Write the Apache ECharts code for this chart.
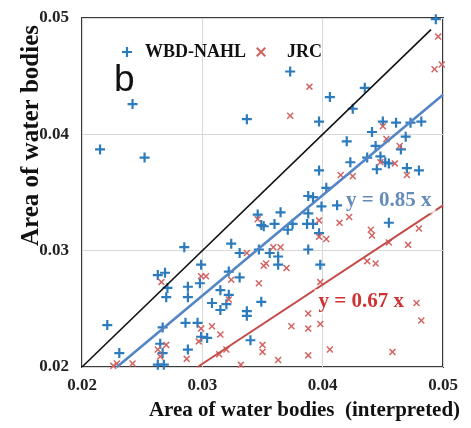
<!DOCTYPE html>
<html>
<head>
<meta charset="utf-8">
<script src="https://cdn.jsdelivr.net/npm/echarts@6/dist/echarts.min.js"></script>
<style>
html,body{margin:0;padding:0;background:#fff;}
#chart{width:471px;height:428px;}
</style>
</head>
<body>
<div id="chart"></div>
<script>
// ---------- DATA ----------
const xTicks = [0.02, 0.03, 0.04, 0.05];
const yTicks = [0.02, 0.03, 0.04, 0.05];
const seriesNames = ['WBD-NAHL', 'JRC'];

const wbdPoints = [
  [0.0242,0.0426],[0.0215,0.0387],[0.0252,0.0380],[0.0373,0.0454],[0.0337,0.0413],
  [0.0397,0.0411],[0.0397,0.0369],[0.0403,0.0354],[0.0388,0.0347],[0.0392,0.0346],
  [0.0494,0.0499],[0.0435,0.0440],[0.0406,0.0432],[0.0425,0.0422],[0.0450,0.0411],
  [0.0461,0.0410],[0.0473,0.0410],[0.0482,0.0411],[0.0441,0.0402],[0.0420,0.0394],
  [0.0469,0.0398],[0.0444,0.0390],[0.0465,0.0387],[0.0437,0.0380],[0.0423,0.0376],
  [0.0448,0.0381],[0.0452,0.0376],[0.0455,0.0375],[0.0445,0.0370],[0.0470,0.0371],
  [0.0480,0.0369],[0.0412,0.0339],[0.0399,0.0338],[0.0455,0.0324],[0.0398,0.0288],
  [0.0388,0.0332],[0.0365,0.0333],[0.0346,0.0331],[0.0349,0.0322],[0.0351,0.0321],
  [0.0360,0.0323],[0.0375,0.0323],[0.0371,0.0318],[0.0387,0.0323],[0.0392,0.0323],
  [0.0397,0.0315],[0.0324,0.0306],[0.0331,0.0298],[0.0347,0.0301],[0.0356,0.0298],
  [0.0363,0.0295],[0.0363,0.0288],[0.0388,0.0301],[0.0322,0.0282],[0.0331,0.0277],
  [0.0299,0.0288],[0.0315,0.0266],[0.0322,0.0262],[0.0308,0.0255],[0.0320,0.0254],
  [0.0315,0.0249],[0.0349,0.0256],[0.0337,0.0248],[0.0337,0.0244],[0.0304,0.0225],
  [0.0299,0.0226],[0.0340,0.0223],[0.0285,0.0303],[0.0298,0.0272],[0.0263,0.0279],
  [0.0269,0.0281],[0.0271,0.0268],[0.0270,0.0260],[0.0288,0.0269],[0.0288,0.0260],
  [0.0221,0.0236],[0.0286,0.0238],[0.0296,0.0238],[0.0267,0.0234],[0.0265,0.0220],
  [0.0267,0.0212],[0.0288,0.0215],[0.0231,0.0212],[0.0263,0.0202],[0.0268,0.0202]
];

const jrcPoints = [
  [0.0389,0.0441],[0.0373,0.0416],[0.0496,0.0484],[0.0493,0.0456],[0.0499,0.0460],
  [0.0450,0.0407],[0.0453,0.0396],[0.0464,0.0390],[0.0448,0.0376],[0.0460,0.0375],
  [0.0470,0.0365],[0.0415,0.0365],[0.0425,0.0364],[0.0414,0.0324],[0.0422,0.0329],
  [0.0440,0.0318],[0.0441,0.0313],[0.0480,0.0319],[0.0397,0.0312],[0.0403,0.0310],
  [0.0455,0.0307],[0.0471,0.0305],[0.0437,0.0291],[0.0444,0.0289],[0.0398,0.0273],
  [0.0478,0.0255],[0.0482,0.0240],[0.0398,0.0237],[0.0406,0.0215],[0.0458,0.0213],
  [0.0388,0.0246],[0.0374,0.0235],[0.0388,0.0233],[0.0350,0.0219],[0.0350,0.0213],
  [0.0388,0.0210],[0.0363,0.0206],[0.0346,0.0327],[0.0397,0.0326],[0.0337,0.0298],
  [0.0359,0.0303],[0.0365,0.0303],[0.0351,0.0287],[0.0353,0.0289],[0.0370,0.0285],
  [0.0324,0.0275],[0.0303,0.0278],[0.0299,0.0278],[0.0347,0.0272],[0.0322,0.0258],
  [0.0308,0.0235],[0.0299,0.0233],[0.0315,0.0228],[0.0297,0.0222],[0.0320,0.0215],
  [0.0314,0.0211],[0.0332,0.0202],[0.0266,0.0273],[0.0270,0.0219],[0.0263,0.0215],
  [0.0265,0.0209],[0.0287,0.0207],[0.0229,0.0203],[0.0226,0.0201],[0.0242,0.0203]
];

const oneToOneLine = [[0.02,0.02],[0.049,0.049]];
const wbdFitLine = [[0.0229,0.02],[0.05,0.0434]];
const jrcFitLine = [[0.0296,0.02],[0.05,0.0339]];

const wbdFitText = 'y = 0.85 x';
const jrcFitText = 'y = 0.67 x';
const xAxisTitle = 'Area of water bodies  (interpreted)';
const yAxisTitle = 'Area of water bodies';
const panelLabel = 'b';

// annotation anchors (data space)
const wbdTextAt = [0.0455, 0.0343];
const jrcTextAt = [0.0432, 0.0256];

// ---------- STYLE ----------
const PLUS = 'path://M3.9,0H6.1V3.9H10V6.1H6.1V10H3.9V6.1H0V3.9H3.9Z';
const CROSS = 'path://M0,1.5L1.5,0L5,3.5L8.5,0L10,1.5L6.5,5L10,8.5L8.5,10L5,6.5L1.5,10L0,8.5L3.5,5Z';
const SERIF = '"Liberation Serif", "Times New Roman", serif';
const blue = '#2b7bbd';
const red = '#d26462';

const chart = echarts.init(document.getElementById('chart'), null, {renderer: 'canvas'});
const fmt = v => v.toFixed(2);

chart.setOption({
  animation: false,
  backgroundColor: '#fff',
  title: {
    text: panelLabel, left: 109, top: 57,
    textStyle: {fontFamily: '"Liberation Sans", Arial, sans-serif', fontSize: 37, fontWeight: 'normal', color: '#111'}
  },
  legend: {
    left: 117, top: 38, itemWidth: 10, itemHeight: 10, itemGap: 10,
    textStyle: {fontFamily: SERIF, fontWeight: 'bold', fontSize: 18, color: '#111'},
    data: [
      {name: seriesNames[0], icon: PLUS, textStyle: {padding: [0,0,0,8]}},
      {name: seriesNames[1], icon: CROSS, textStyle: {padding: [0,0,0,16]}}
    ]
  },
  grid: {left: 82, right: 28, top: 18, bottom: 61, containLabel: false, outerBoundsMode: 'none',
         show: true, borderColor: '#3a3a3a', borderWidth: 2, backgroundColor: 'transparent'},
  xAxis: {
    type: 'value', min: xTicks[0], max: xTicks[xTicks.length-1], interval: 0.01,
    axisLine: {show: false}, axisTick: {show: false},
    splitLine: {lineStyle: {color: '#d8d8d8', width: 1}},
    axisLabel: {formatter: fmt, margin: 10, fontFamily: SERIF, fontWeight: 'bold', fontSize: 17, color: '#222'},
    name: xAxisTitle, nameLocation: 'middle', nameGap: 33,
    nameTextStyle: {fontFamily: SERIF, fontWeight: 'bold', fontSize: 21, color: '#111', padding: [0,0,0,84]}
  },
  yAxis: {
    type: 'value', min: yTicks[0], max: yTicks[yTicks.length-1], interval: 0.01,
    axisLine: {show: false}, axisTick: {show: false},
    splitLine: {lineStyle: {color: '#d8d8d8', width: 1}},
    axisLabel: {formatter: fmt, margin: 13, fontFamily: SERIF, fontWeight: 'bold', fontSize: 17, color: '#222'},
    name: yAxisTitle, nameLocation: 'middle', nameGap: 38, nameRotate: 90, nameMoveOverlap: false,
    nameTextStyle: {fontFamily: SERIF, fontWeight: 'bold', fontSize: 25, color: '#111', padding: [0,0,0,114]}
  },
  series: [
    {
      name: seriesNames[0], type: 'scatter', data: wbdPoints, z: 2,
      symbol: PLUS, symbolSize: 10, itemStyle: {color: blue, opacity: 1}
    },
    {
      name: seriesNames[1], type: 'scatter', data: jrcPoints, z: 2,
      symbol: CROSS, symbolSize: 7, itemStyle: {color: red, opacity: 1}
    },
    {
      type: 'line', data: oneToOneLine, z: 3, symbol: 'none', silent: true,
      lineStyle: {color: '#111', width: 1.6}
    },
    {
      type: 'line', data: wbdFitLine, z: 3, symbol: 'none', silent: true,
      lineStyle: {color: '#5486c6', width: 2.6}
    },
    {
      type: 'line', data: jrcFitLine, z: 3, symbol: 'none', silent: true,
      lineStyle: {color: '#c44b48', width: 2}
    },
    {
      type: 'scatter', z: 5, silent: true, symbolSize: 0,
      data: [{value: wbdTextAt, label: {formatter: wbdFitText, color: '#3f6ea8'}},
             {value: jrcTextAt, label: {formatter: jrcFitText, color: '#c00000'}}],
      label: {show: true, position: 'inside', fontFamily: SERIF, fontWeight: 'bold', fontSize: 21,
              backgroundColor: '#fff', padding: [3,4,1,4]}
    }
  ]
});
</script>
</body>
</html>
